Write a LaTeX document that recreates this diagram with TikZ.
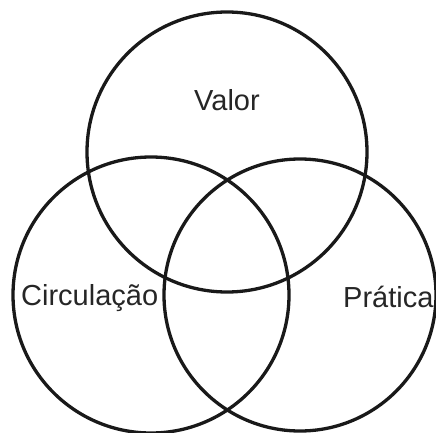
\documentclass[tikz,border=0pt]{standalone}
\usepackage{fontspec}
\setmainfont{Liberation Sans}
\usetikzlibrary{positioning}

\begin{document}
\begin{tikzpicture}[
    x=1pt, y=1pt,
    every node/.style={font=\fontsize{29}{32}\selectfont, text=black!85, inner sep=0pt},
    vennring/.style={draw=black!90, line width=3.3pt}
]
\useasboundingbox (0,0) rectangle (436,432);

% centres of the three sets
\coordinate (cValor) at (227,280);
\coordinate (cCirc) at (151,137);
\coordinate (cPrat) at (300,137);

\draw[vennring] (cValor) circle (140);
\draw[vennring] (cCirc) circle (138);
\draw[vennring] (cPrat) circle (136);

\node[anchor=base] (valor) at (227,322) {Valor};
\node[anchor=base west] (circ) at (21,127) {Circulação};
\node[anchor=base west] (prat) at (343,125) {Prática};

\end{tikzpicture}
\end{document}
